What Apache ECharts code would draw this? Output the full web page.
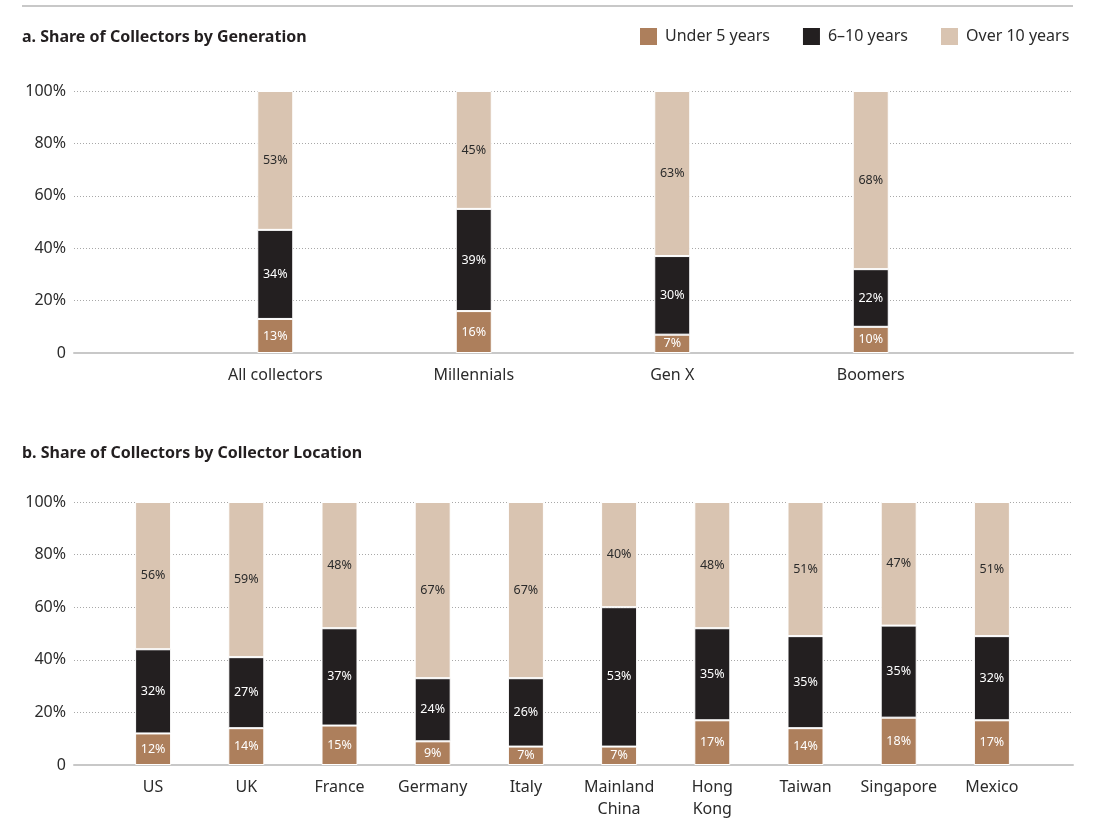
<!DOCTYPE html>
<html>
<head>
<meta charset="utf-8">
<script src="https://cdn.jsdelivr.net/npm/echarts@6/dist/echarts.min.js"></script>
<style>html,body{margin:0;padding:0;background:#fff}#c{width:1094px;height:833px}</style>
</head>
<body>
<div id="c"></div>
<script>
const seriesNames = ['Under 5 years', '6–10 years', 'Over 10 years'];
const genCategories = ['All collectors', 'Millennials', 'Gen X', 'Boomers'];
const genUnder5 = [13, 16, 7, 10];
const gen6to10 = [34, 39, 30, 22];
const genOver10 = [53, 45, 63, 68];
const locCategories = ['US', 'UK', 'France', 'Germany', 'Italy', 'Mainland\nChina', 'Hong\nKong', 'Taiwan', 'Singapore', 'Mexico'];
const locUnder5 = [12, 14, 15, 9, 7, 7, 17, 14, 18, 17];
const loc6to10 = [32, 27, 37, 24, 26, 53, 35, 35, 35, 32];
const locOver10 = [56, 59, 48, 67, 67, 40, 48, 51, 47, 51];
const yTicks = [0, 20, 40, 60, 80, 100];

const colors = ['#ad7f5c', '#231f20', '#d9c4b1'];
const labelColors = ['#ffffff', '#ffffff', '#2b2b2b'];
const FONT = 'Noto Sans';

const chart = echarts.init(document.getElementById('c'), null, {renderer: 'canvas'});

function frameX(gi) {
  return {type: 'value', gridIndex: gi, min: 0, max: 1, show: true,
    axisLine: {show: true, onZero: false, lineStyle: {color: '#c8c8c8', width: 2}},
    axisTick: {show: false}, axisLabel: {show: false}, splitLine: {show: false}};
}
function frameY(gi) {
  return {type: 'value', gridIndex: gi, min: 0, max: 100, interval: 20,
    axisLine: {show: false}, axisTick: {show: false},
    axisLabel: {color: '#2b2b2b', fontSize: 16, fontFamily: FONT, margin: 8,
      formatter: v => yTicks.includes(v) ? (v === 0 ? '0' : v + '%') : ''},
    splitLine: {show: true, lineStyle: {color: '#a8a8a8', type: [1, 2], width: 1}}};
}
function barX(gi, cats) {
  return {type: 'category', gridIndex: gi, data: cats,
    axisLine: {show: false}, axisTick: {show: false}, splitLine: {show: false},
    axisLabel: {color: '#2b2b2b', fontSize: 16, fontFamily: FONT, margin: 11, lineHeight: 22, interval: 0}};
}
function barY(gi) {
  return {type: 'value', gridIndex: gi, min: 0, max: 100, show: false};
}
function mkSeries(gi, arrs) {
  return arrs.map((d, i) => ({
    name: seriesNames[i], type: 'bar', stack: 's' + gi,
    xAxisIndex: gi, yAxisIndex: gi, data: d, barWidth: 36,
    itemStyle: {color: colors[i], borderColor: '#fff', borderWidth: 1},
    label: {show: true, position: 'inside', formatter: '{c}%', color: labelColors[i],
      fontSize: 12.5, fontFamily: FONT}
  }));
}

chart.setOption({
  animation: false,
  textStyle: {fontFamily: FONT},
  grid: [
    {left: 74, right: 21, top: 91, height: 262},
    {left: 176, width: 794, top: 91, height: 262},
    {left: 74, right: 21, top: 502, height: 263},
    {left: 106.5, width: 932, top: 502, height: 263}
  ],
  xAxis: [frameX(0), barX(1, genCategories), frameX(2), barX(3, locCategories)],
  yAxis: [frameY(0), barY(1), frameY(2), barY(3)],
  legend: {
    data: seriesNames, left: 638, top: 26, padding: 0, icon: 'rect', itemWidth: 19, itemHeight: 19,
    itemGap: 31, textStyle: {color: '#2b2b2b', fontSize: 16, fontFamily: FONT, padding: [0, 0, 0, 2]}
  },
  graphic: [
    {type: 'line', shape: {x1: 22, y1: 6, x2: 1073, y2: 6}, style: {stroke: '#c8c8c8', lineWidth: 2}},
    {type: 'text', left: 22, top: 29, style: {text: 'a. Share of Collectors by Generation', fontSize: 16, fontWeight: 'bold', fontFamily: FONT, fill: '#231f20'}},
    {type: 'text', left: 22, top: 445, style: {text: 'b. Share of Collectors by Collector Location', fontSize: 16, fontWeight: 'bold', fontFamily: FONT, fill: '#231f20'}}
  ],
  series: [...mkSeries(1, [genUnder5, gen6to10, genOver10]), ...mkSeries(3, [locUnder5, loc6to10, locOver10])]
});
</script>
</body>
</html>
